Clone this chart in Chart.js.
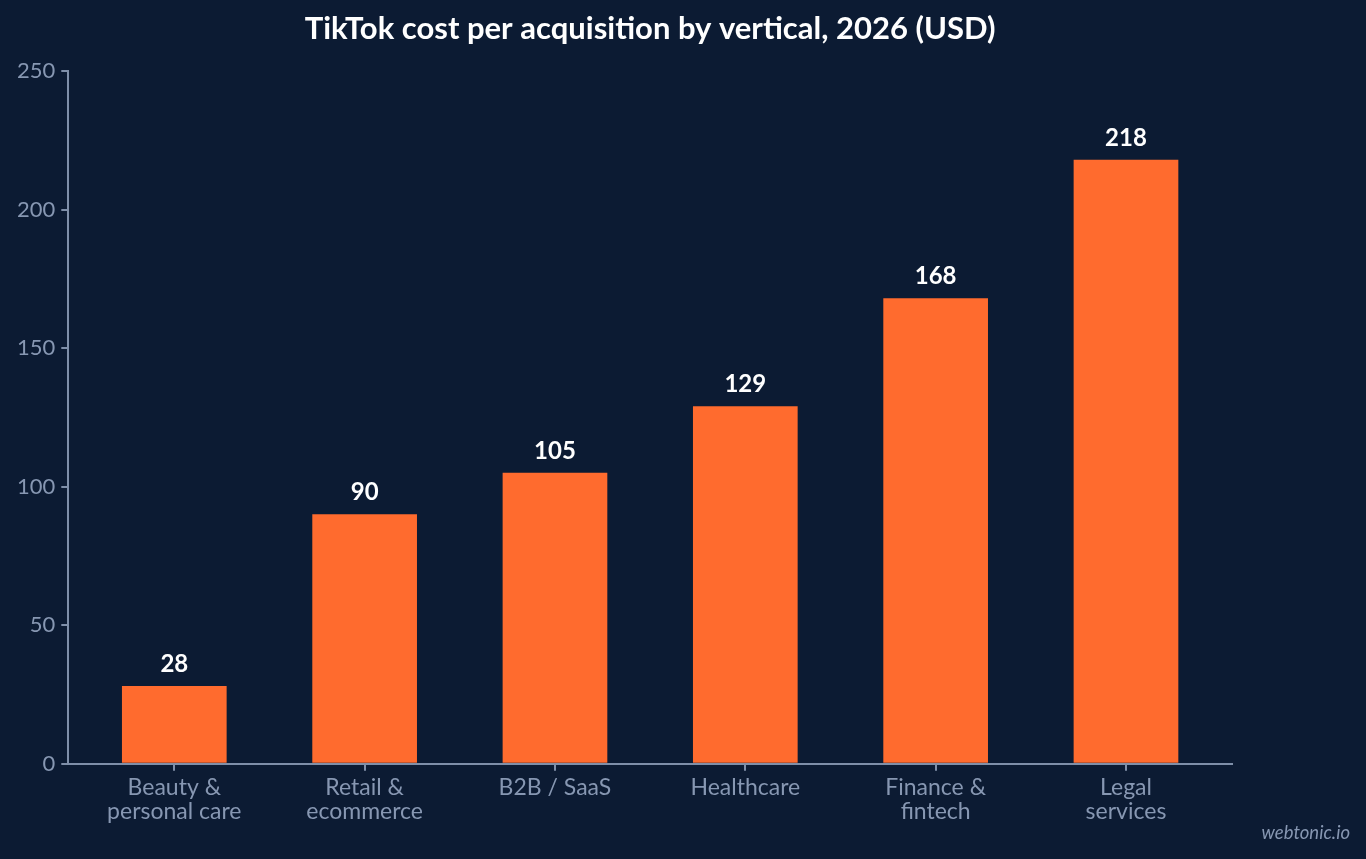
<!DOCTYPE html>
<html>
<head>
<meta charset="utf-8">
<script src="https://cdn.jsdelivr.net/npm/chart.js@4.4.1/dist/chart.umd.min.js"></script>
<style>
  html, body { margin: 0; padding: 0; background: #0c1b33; }
  #wrap { width: 1366px; height: 859px; position: relative; }
</style>
</head>
<body>
<div id="wrap"><canvas id="chart"></canvas></div>
<script>
const title = "TikTok cost per acquisition by vertical, 2026 (USD)";
const categories = [
    ["Beauty &", "personal care"],
    ["Retail &", "ecommerce"],
    ["B2B / SaaS"],
    ["Healthcare"],
    ["Finance &", "fintech"],
    ["Legal", "services"]
];
const cpa = [28, 90, 105, 129, 168, 218];
const yTicks = [0, 50, 100, 150, 200, 250];
const credit = "webtonic.io";

const axisColor = "#7f8fa9";
const textColor = "#8797b2";

// title centred on the plot, value labels above bars, credit bottom right
const extras = {
    id: "extras",
    afterDatasetsDraw(chart) {
        const ctx = chart.ctx;
        const area = chart.chartArea;
        ctx.save();
        ctx.fillStyle = "#ffffff";
        ctx.font = "bold 24px Lato";
        ctx.textAlign = "center";
        ctx.textBaseline = "alphabetic";
        chart.getDatasetMeta(0).data.forEach((bar, i) => {
            ctx.fillText(cpa[i], bar.x, bar.y - 14);
        });
        ctx.font = "bold 31px Lato";
        ctx.fillText(title, (area.left + area.right) / 2, 39);
        ctx.font = "italic 18.5px Lato";
        ctx.fillStyle = textColor;
        ctx.textAlign = "right";
        ctx.fillText(credit, 1350, 839);
        ctx.restore();
    }
};

new Chart(document.getElementById("chart"), {
    type: "bar",
    data: {
        datasets: [{
            data: cpa.map((v, i) => ({ x: i, y: v })),
            backgroundColor: "#ff6b2e",
            borderWidth: 0,
            categoryPercentage: 1,
            barPercentage: 0.55
        }]
    },
    options: {
        responsive: true,
        maintainAspectRatio: false,
        animation: false,
        layout: { padding: { top: 71, right: 134, bottom: 30, left: 11 } },
        plugins: { legend: { display: false }, tooltip: { enabled: false }, title: { display: false } },
        scales: {
            x: {
                type: "linear",
                offset: false,
                min: -0.557,
                max: 5.557,
                afterBuildTicks: axis => { axis.ticks = categories.map((_, i) => ({ value: i })); },
                ticks: {
                    autoSkip: false,
                    maxRotation: 0,
                    color: textColor,
                    font: { family: "Lato", size: 23, lineHeight: 1.05 },
                    padding: 5,
                    callback: v => categories[v]
                },
                grid: { offset: false, drawOnChartArea: false, drawTicks: true, tickLength: 7, color: axisColor, lineWidth: 2 },
                border: { color: axisColor, width: 2 }
            },
            y: {
                min: 0,
                max: 250,
                afterBuildTicks: axis => { axis.ticks = yTicks.map(v => ({ value: v })); },
                ticks: {
                    color: textColor,
                    font: { family: "Lato", size: 22 },
                    padding: 6
                },
                grid: { drawOnChartArea: false, drawTicks: true, tickLength: 7, color: axisColor, lineWidth: 2 },
                border: { color: axisColor, width: 2 }
            }
        }
    },
    plugins: [extras]
});
</script>
</body>
</html>
